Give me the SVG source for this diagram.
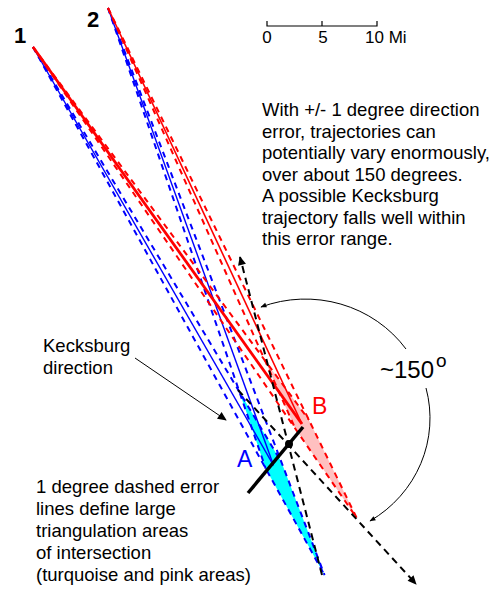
<svg xmlns="http://www.w3.org/2000/svg" width="500" height="600" viewBox="0 0 500 600">
<style>
text{font-family:"Liberation Sans",Arial,sans-serif;fill:#000}
.t{font-size:18.5px}
.rs{stroke:#f00;stroke-width:1.6;fill:none}
.rs1{stroke:#f00;stroke-width:2.8;fill:none}
.rd{stroke:#f00;stroke-width:2;stroke-dasharray:6 5;fill:none}
.bs{stroke:#00f;stroke-width:1.4;fill:none}
.bd{stroke:#00f;stroke-width:2;stroke-dasharray:6 5;fill:none}
.kd{stroke:#000;stroke-width:2;stroke-dasharray:7 5;fill:none}
.thin{stroke:#000;stroke-width:1;fill:none}
</style>
<defs>
<marker id="ah" viewBox="0 0 10 10" refX="9" refY="5" markerWidth="11" markerHeight="9" markerUnits="userSpaceOnUse" orient="auto"><path d="M0,0.5L10,5L0,9.5z"/></marker>
<marker id="as" viewBox="0 0 10 10" refX="9" refY="5" markerWidth="8" markerHeight="6" markerUnits="userSpaceOnUse" orient="auto-start-reverse"><path d="M0,1L10,5L0,9z"/></marker>
<clipPath id="cb2"><polygon transform="translate(108,8) rotate(-19.9)" points="0,0 -13.96,799.88 13.96,799.88"/></clipPath>
<clipPath id="cr2"><polygon transform="translate(108,8) rotate(-25)" points="0,0 -13.96,799.88 13.96,799.88"/></clipPath>
</defs>
<rect width="500" height="600" fill="#fff"/>

<g id="areaA">
<g clip-path="url(#cb2)"><polygon transform="translate(33,47) rotate(-29.9)" points="0,0 -13.96,799.88 13.96,799.88" fill="#00ffff"/></g>
<text x="237" y="467" font-size="23" style="fill:#0000ff">A</text>
</g>
<g id="areaB">
<g clip-path="url(#cr2)"><polygon transform="translate(33,47) rotate(-35.5)" points="0,0 -13.96,799.88 13.96,799.88" fill="#ffc0c0"/></g>
<text x="312" y="414" font-size="23" style="fill:#ff0000">B</text>
</g>

<g id="connectors">
<!-- blue from 1 -->
<path class="bd" transform="translate(33,47) rotate(-28.9)" d="M0,0V603"/>
<path class="bs" transform="translate(33,47) rotate(-29.9)" d="M0,0V482.5"/>
<path class="bd" transform="translate(33,47) rotate(-30.9)" d="M0,0V483.6"/>
<!-- blue from 2 -->
<path class="bd" transform="translate(108,8) rotate(-20.9)" d="M0,0V607"/>
<path class="bs" transform="translate(108,8) rotate(-19.9)" d="M0,0V486"/>
<path class="bd" transform="translate(108,8) rotate(-18.9)" d="M0,0V487"/>
<!-- red from 1 -->
<path class="rd" transform="translate(33,47) rotate(-34.5)" d="M0,0V572"/>
<path class="rs1" transform="translate(33,47) rotate(-35.5)" d="M0,0V463"/>
<path class="rd" transform="translate(33,47) rotate(-36.5)" d="M0,0V464"/>
<!-- red from 2 -->
<path class="rd" transform="translate(108,8) rotate(-26)" d="M0,0V568"/>
<path class="rs" transform="translate(108,8) rotate(-25)" d="M0,0V459"/>
<path class="rd" transform="translate(108,8) rotate(-24)" d="M0,0V460"/>
<!-- trajectories -->
<path class="kd" d="M322,575L240,257" marker-end="url(#ah)"/>
<path class="kd" d="M238,390L416,584" marker-end="url(#ah)"/>
<path d="M248,493L303,427" stroke="#000" stroke-width="3.5" fill="none"/>
<circle cx="289" cy="444" r="4" fill="#000"/>
<!-- Kecksburg direction pointer -->
<path class="thin" d="M135,358L226,420" marker-end="url(#ah)"/>
<!-- angle arc -->
<path class="thin" d="M261,307A124,120 0 0 1 406,349" marker-start="url(#as)"/>
<path class="thin" d="M426,388A124,120 0 0 1 370,521" marker-end="url(#as)"/>
</g>

<g id="origin1"><text x="14" y="43" font-size="22" font-weight="bold">1</text></g>
<g id="origin2"><text x="87" y="27" font-size="22" font-weight="bold">2</text></g>

<g id="scale">
<path d="M267,21V26H377V21M322,21V26" stroke="#000" stroke-width="1.2" fill="none"/>
<text x="267" y="43" font-size="17" text-anchor="middle">0</text>
<text x="323" y="43" font-size="17" text-anchor="middle">5</text>
<text x="365" y="43" font-size="17">10 Mi</text>
</g>

<g id="note">
<text class="t" x="262" y="116">With +/- 1 degree direction</text>
<text class="t" x="262" y="137.5">error, trajectories can</text>
<text class="t" x="262" y="159">potentially vary enormously,</text>
<text class="t" x="262" y="180.5">over about 150 degrees.</text>
<text class="t" x="262" y="202">A possible Kecksburg</text>
<text class="t" x="262" y="223.5">trajectory falls well within</text>
<text class="t" x="262" y="245">this error range.</text>
</g>

<g id="angle"><text x="380" y="378" font-size="24">~150</text><text x="436" y="367" font-size="19">o</text></g>

<g id="kecksburg">
<text class="t" x="43" y="352">Kecksburg</text>
<text class="t" x="43" y="373.5">direction</text>
</g>

<g id="legend">
<text class="t" x="36" y="493">1 degree dashed error</text>
<text class="t" x="36" y="515">lines define large</text>
<text class="t" x="36" y="537">triangulation areas</text>
<text class="t" x="36" y="559">of intersection</text>
<text class="t" x="36" y="581">(turquoise and pink areas)</text>
</g>
</svg>
